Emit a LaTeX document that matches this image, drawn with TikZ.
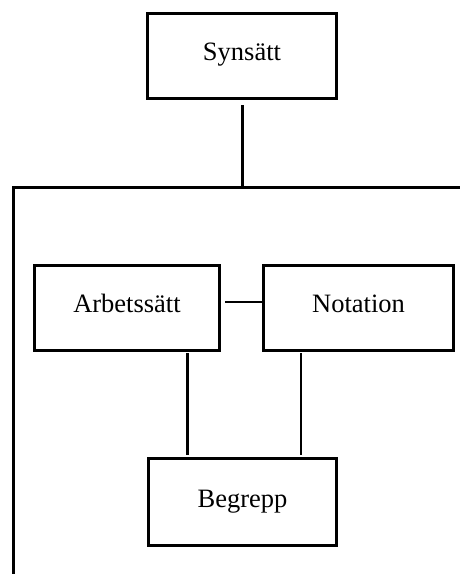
\documentclass[tikz,border=0pt]{standalone}
\usepackage{fontspec}
\setmainfont{Liberation Serif}
\begin{document}
\begin{tikzpicture}[x=1pt,y=-1pt,
  box/.style={draw,line width=3pt,inner sep=0pt,
    text height=46.5pt,text depth=38.5pt,
    font=\fontsize{26.5}{30}\selectfont},
  heavy/.style={line width=3pt},
  light/.style={line width=2pt}]
\useasboundingbox (0,0) rectangle (460,574);

% boxes
\node[box,minimum width=189pt] (syn) at (242,56) {Synsätt};
\node[box,minimum width=185pt] (arb) at (127,308) {Arbetssätt};
\node[box,minimum width=190pt] (not) at (358.5,308) {Notation};
\node[box,minimum width=188pt,text height=48.5pt] (beg) at (242.5,502) {Begrepp};

% frame bracket
\coordinate (jn) at (242,187);
\coordinate (tl) at (13,187);
\coordinate (tr) at (460,187);
\coordinate (bl) at (13,574);

% connectors
\draw[heavy] ([yshift=-5pt]syn.south) -- (jn);
\draw[heavy] (tr) -- (tl) -- (bl);
\draw[light] ([xshift=4pt,yshift=6pt]arb.east) -- ([yshift=6pt]not.west);
\draw[heavy] ([xshift=60pt,yshift=-1pt]arb.south) -- ([xshift=-55.5pt,yshift=2pt]beg.north);
\draw[light] ([xshift=-57.5pt,yshift=-1pt]not.south) -- ([xshift=58.5pt,yshift=2pt]beg.north);
\end{tikzpicture}
\end{document}
